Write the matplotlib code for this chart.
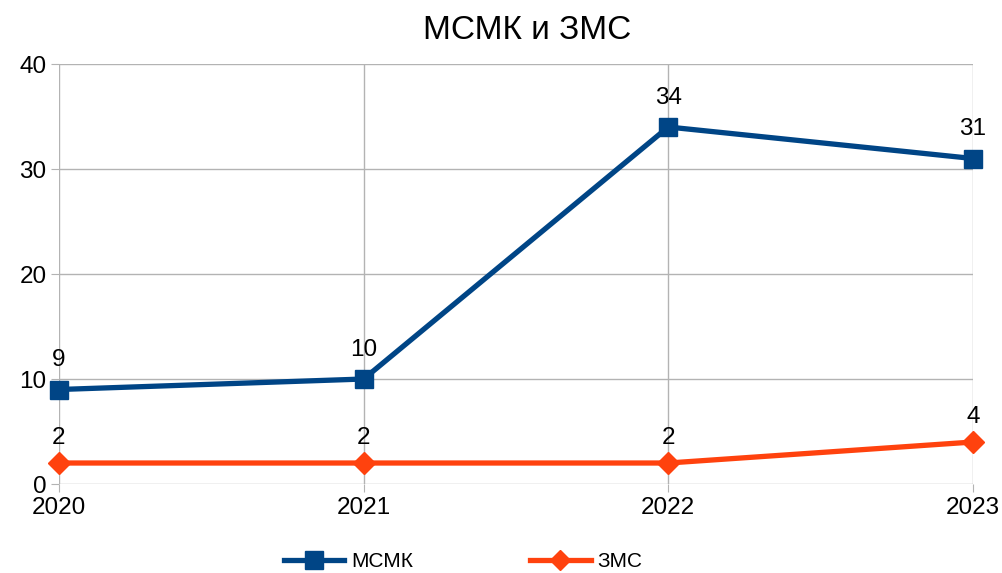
import matplotlib
matplotlib.use("Agg")
import matplotlib.pyplot as plt

plt.rcParams['font.family'] = ['Liberation Sans', 'DejaVu Sans']

years = ['2020', '2021', '2022', '2023']
msmk = [9, 10, 34, 31]
zms = [2, 2, 2, 4]

blue = '#004586'
orange = '#ff420e'

fig = plt.figure(figsize=(10.03, 5.73), dpi=100)
ax = fig.add_axes([0.0588, 0.1553, 0.9112, 0.733])

x = list(range(len(years)))
ax.plot(x, msmk, color=blue, lw=3.8, marker='s', markersize=13, label='МСМК', clip_on=False, zorder=3)
ax.plot(x, zms, color=orange, lw=3.8, marker='D', markersize=11, label='ЗМС', clip_on=False, zorder=3)

# value labels above the points
for xi, v in zip(x, msmk):
    ax.annotate(str(v), (xi, v), xytext=(0, 13), textcoords='offset points',
                ha='center', va='bottom', fontsize=17.5)
for xi, v in zip(x, zms):
    ax.annotate(str(v), (xi, v), xytext=(0, 10), textcoords='offset points',
                ha='center', va='bottom', fontsize=17.5)

ax.set_xlim(0, 3)
ax.set_ylim(0, 40)
ax.set_xticks(x)
ax.set_xticklabels(years)
ax.set_yticks([0, 10, 20, 30, 40])
ax.tick_params(axis='both', labelsize=17.5, color='#b3b3b3', length=6, pad=3)
ax.grid(True, color='#b3b3b3', lw=1)
for s in ax.spines.values():
    s.set_visible(False)

fig.text(0.526, 0.947, 'МСМК и ЗМС', fontsize=24, ha='center', va='center')

fig.legend(loc='lower center', ncol=2, frameon=False, fontsize=15,
           bbox_to_anchor=(0.462, -0.03), handlelength=2.9, handletextpad=0.35,
           columnspacing=5.6, markerscale=0.95)

fig.savefig('out.png', dpi=100)
